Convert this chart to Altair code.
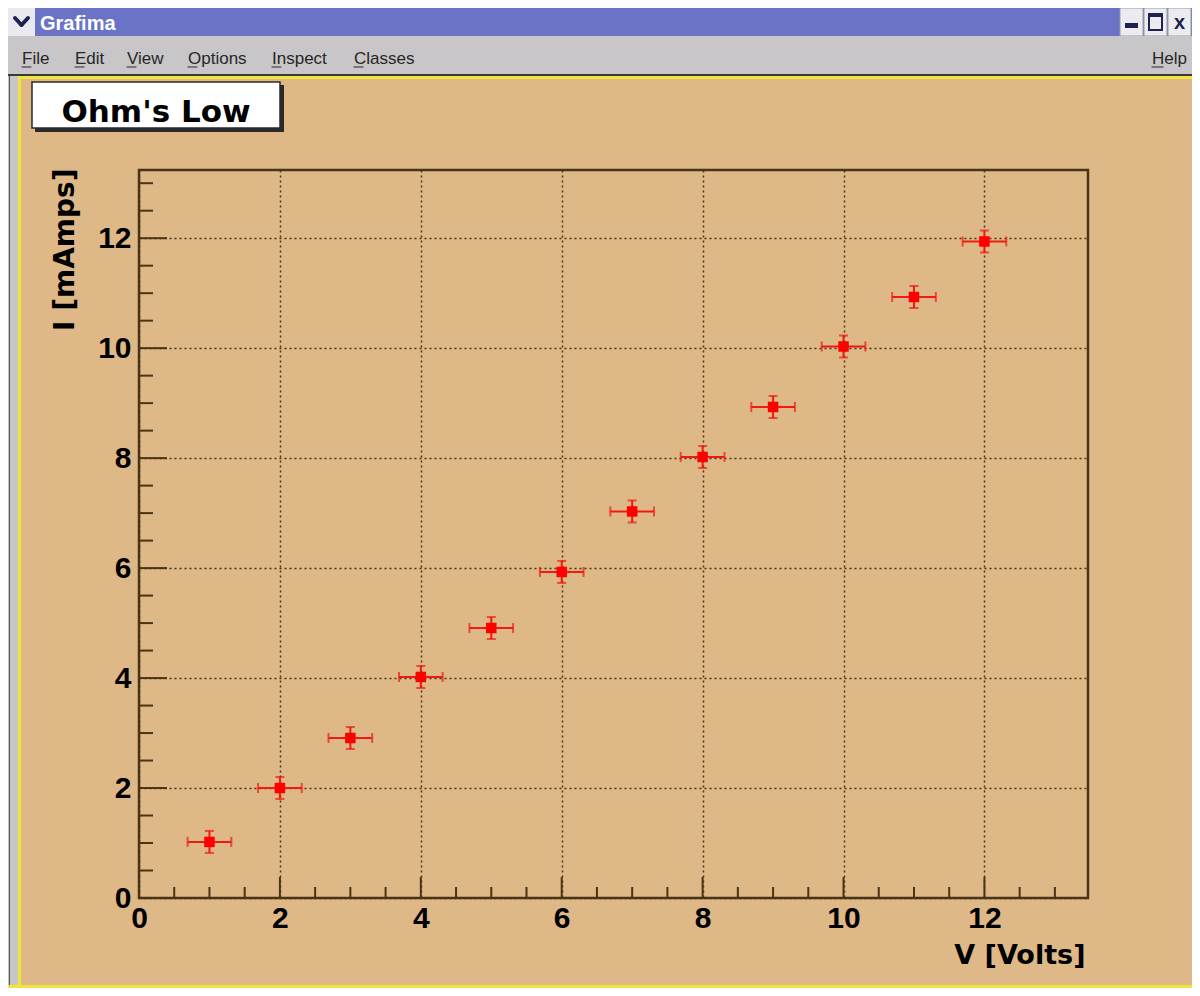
import altair as alt
import pandas as pd

# ---------------- data ----------------
V = [1, 2, 3, 4, 5, 6, 7, 8, 9, 10, 11, 12]
I = [1.02, 2.0, 2.91, 4.02, 4.91, 5.93, 7.03, 8.02, 8.93, 10.03, 10.93, 11.94]
eV = [0.31] * 12
eI = [0.2] * 12
x_major = [0, 2, 4, 6, 8, 10, 12]
y_major = [0, 2, 4, 6, 8, 10, 12]
x_minor = [0.5, 1, 1.5, 2.5, 3, 3.5, 4.5, 5, 5.5, 6.5, 7, 7.5, 8.5, 9, 9.5,
           10.5, 11, 11.5, 12.5, 13]
y_minor = [0.5, 1, 1.5, 2.5, 3, 3.5, 4.5, 5, 5.5, 6.5, 7, 7.5, 8.5, 9, 9.5,
           10.5, 11, 11.5, 12.5, 13]
menu_items = ["File", "Edit", "View", "Options", "Inspect", "Classes"]
title_text = "Ohm's Low"
window_title = "Grafima"

df = pd.DataFrame({"V": V, "I": I, "eV": eV, "eI": eI})
df["V_lo"] = df["V"] - df["eV"]
df["V_hi"] = df["V"] + df["eV"]
df["I_lo"] = df["I"] - df["eI"]
df["I_hi"] = df["I"] + df["eI"]

# ---------------- layout / style ----------------
PW, PH = 949, 728          # plot area
X0, Y0 = 139, 170          # plot origin on the page
BURLY = "#deb887"
FRAME = "#4a3416"
RED = "#f01a10"
BLUE = "#6b73c6"
GREY = "#c9c6c9"
YELLOW = "#efe43c"


def px(x):
    return x - X0


def py(y):
    return y - Y0


xs = alt.Scale(domain=[0, 13.47], nice=False, zero=False)
ys = alt.Scale(domain=[0, 13.24], nice=False, zero=False)

xaxis = alt.Axis(values=x_major, grid=True, gridDash=[2, 3], gridColor=FRAME,
                 gridWidth=1.5, ticks=False, domain=False,
                 labelFont="Liberation Sans", labelFontWeight="bold",
                 labelFontSize=30, labelColor="black", labelPadding=5,
                 labelFlush=False, labelOverlap=False,
                 title="V [Volts]", titleFont="DejaVu Sans", titleFontWeight="bold",
                 titleFontSize=27, titleColor="black", titleX=946, titleY=65,
                 titleAlign="right", titleBaseline="alphabetic")
yaxis = alt.Axis(values=y_major, grid=True, gridDash=[2, 3], gridColor=FRAME,
                 gridWidth=1.5, ticks=False, domain=False,
                 labelFont="Liberation Sans", labelFontWeight="bold",
                 labelFontSize=30, labelColor="black", labelPadding=8,
                 labelFlush=False, labelOverlap=False,
                 title="I [mAmps]", titleFont="DejaVu Sans", titleFontWeight="bold",
                 titleFontSize=28, titleColor="black", titleAngle=270,
                 titleX=-66, titleY=-2, titleAlign="right",
                 titleBaseline="alphabetic")

base = alt.Chart(df)

xerr = base.mark_rule(color=RED, strokeWidth=2).encode(
    x=alt.X("V_lo:Q", scale=xs, axis=xaxis), x2="V_hi:Q",
    y=alt.Y("I:Q", scale=ys, axis=yaxis))
yerr = base.mark_rule(color=RED, strokeWidth=2).encode(
    x=alt.X("V:Q", scale=xs, axis=xaxis),
    y=alt.Y("I_lo:Q", scale=ys, axis=yaxis), y2="I_hi:Q")
cap_l = base.mark_tick(color=RED, orient="vertical", size=10, thickness=2).encode(
    x=alt.X("V_lo:Q", scale=xs, axis=xaxis), y=alt.Y("I:Q", scale=ys, axis=yaxis))
cap_r = base.mark_tick(color=RED, orient="vertical", size=10, thickness=2).encode(
    x=alt.X("V_hi:Q", scale=xs, axis=xaxis), y=alt.Y("I:Q", scale=ys, axis=yaxis))
cap_b = base.mark_tick(color=RED, orient="horizontal", size=9, thickness=2).encode(
    x=alt.X("V:Q", scale=xs, axis=xaxis), y=alt.Y("I_lo:Q", scale=ys, axis=yaxis))
cap_t = base.mark_tick(color=RED, orient="horizontal", size=9, thickness=2).encode(
    x=alt.X("V:Q", scale=xs, axis=xaxis), y=alt.Y("I_hi:Q", scale=ys, axis=yaxis))
pts = base.mark_square(color="#ff0000", size=110, opacity=1).encode(
    x=alt.X("V:Q", scale=xs, axis=xaxis), y=alt.Y("I:Q", scale=ys, axis=yaxis))


# inward axis ticks
def xticks(vals, length):
    return alt.Chart(pd.DataFrame({"t": vals})).mark_rule(
        color=FRAME, strokeWidth=2).encode(
        x=alt.X("t:Q", scale=xs, axis=xaxis),
        y=alt.value(PH), y2=alt.value(PH - length))


def yticks(vals, length):
    return alt.Chart(pd.DataFrame({"t": vals})).mark_rule(
        color=FRAME, strokeWidth=2).encode(
        y=alt.Y("t:Q", scale=ys, axis=yaxis),
        x=alt.value(0), x2=alt.value(length))


# ---------------- decorations (window chrome, title box) ----------------
dummy = pd.DataFrame({"k": [0]})


def rect(x1, y1, x2, y2, fill, stroke=None, sw=0):
    kw = dict(fill=fill)
    if stroke:
        kw.update(stroke=stroke, strokeWidth=sw)
    return alt.Chart(dummy).mark_rect(**kw).encode(
        x=alt.value(px(x1)), x2=alt.value(px(x2)),
        y=alt.value(py(y1)), y2=alt.value(py(y2)))


def seg(x1, y1, x2, y2, color, sw):
    return alt.Chart(dummy).mark_rule(color=color, strokeWidth=sw,
                                      strokeCap="round").encode(
        x=alt.value(px(x1)), x2=alt.value(px(x2)),
        y=alt.value(py(y1)), y2=alt.value(py(y2)))


def text(x, y, s, size, color="#1e1e1e", weight="normal", align="left",
         font="Liberation Sans"):
    return alt.Chart(dummy).mark_text(
        fontSize=size, font=font, fontWeight=weight, color=color,
        align=align, baseline="alphabetic").encode(
        x=alt.value(px(x)), y=alt.value(py(y)), text=alt.value(s))


chrome = [
    rect(8, 8, 1200, 36, BLUE),
    rect(8, 8, 35, 36, "#e9e9ef"),
    seg(15, 18, 21.5, 25, "#1c2350", 4),
    seg(21.5, 25, 28, 18, "#1c2350", 4),
    text(40, 30, window_title, 20, color="white", weight="bold"),
    rect(1120, 8, 1143, 36, "#ececf0", "#9a9aa8", 1),
    rect(1144, 8, 1167, 36, "#ececf0", "#9a9aa8", 1),
    rect(1168, 8, 1191, 36, "#ececf0", "#9a9aa8", 1),
    rect(1125, 23, 1138, 28, "#1c2350"),
    rect(1149, 14, 1162, 30, "#ececf0", "#1c2350", 2),
    rect(1149, 14, 1162, 17, "#1c2350"),
    text(1179.5, 29, "x", 20, color="#1c2350", weight="bold", align="center"),
    rect(8, 36, 1200, 75, GREY),
    rect(8, 74, 1200, 76, "#3a3a3a"),
    rect(8, 76, 1200, 79, YELLOW),
    rect(8, 76, 18, 988, GREY),
    rect(9, 76, 10, 988, "#555555"),
    rect(18, 76, 21, 988, YELLOW),
    rect(8, 985, 1200, 989, YELLOW),
]
menu_x = [22, 75, 127, 188, 272, 354]
for mx, item in zip(menu_x, menu_items):
    chrome.append(text(mx, 64, item, 17, color="#262626"))
    chrome.append(seg(mx, 67, mx + 9, 67, "#262626", 1))
chrome.append(text(1152, 64, "Help", 17, color="#262626"))
chrome.append(seg(1152, 67, 1163, 67, "#262626", 1))

title_box = [
    rect(35, 85, 284, 132, "#2a2a2a"),
    rect(32, 82, 280, 128, "white", "#2a2a2a", 1.5),
    text(156, 122, title_text, 31, color="black", weight="bold",
         align="center", font="DejaVu Sans"),
]

layers = ([xerr, yerr, cap_l, cap_r, cap_b, cap_t, pts,
           xticks(x_major, 21), xticks(x_minor, 11),
           yticks(y_major, 28), yticks(y_minor, 14)]
          + chrome + title_box)

# total chart = 1184 x 980 so that with the 8px page margin it fills 1200 x 996
chart = alt.layer(*layers).properties(
    width=PW, height=PH,
    autosize=alt.AutoSizeParams(type="none"),
    padding={"left": 131, "top": 162, "right": 104, "bottom": 90},
    background=BURLY,
).configure_view(stroke=FRAME, strokeWidth=2.5, fill=None)

chart.save("out.html", embed_options={"renderer": "svg", "actions": False})
